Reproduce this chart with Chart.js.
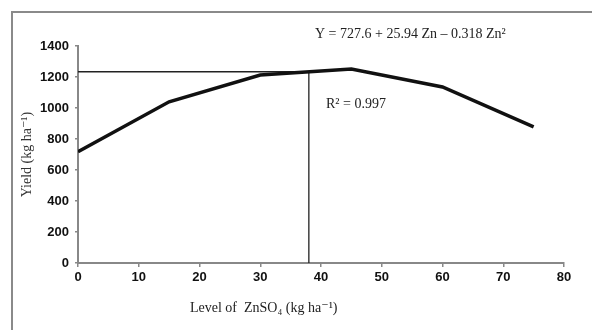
<!DOCTYPE html>
<html>
<head>
<meta charset="utf-8">
<script src="https://cdn.jsdelivr.net/npm/chart.js@4"></script>
<style>
  html, body { margin: 0; padding: 0; background: #fff; }
  #wrap { width: 592px; height: 330px; }
</style>
</head>
<body>
<div id="wrap"><canvas id="yieldChart" width="592" height="330"></canvas></div>
<script>
const znLevels = [0, 15, 30, 45, 60, 75];
const yields = [718, 1040, 1213, 1252, 1136, 878];
const optimumLevel = 38;
const optimumYield = 1234;
const xTicks = [0, 10, 20, 30, 40, 50, 60, 70, 80];
const yTicks = [0, 200, 400, 600, 800, 1000, 1200, 1400];

const curve = znLevels.map((x, i) => ({ x: x, y: yields[i] }));
const optimumLines = [
  { x: 0, y: optimumYield },
  { x: optimumLevel, y: optimumYield },
  { x: optimumLevel, y: 0 }
];

const serif = "'Liberation Serif', 'DejaVu Serif', serif";

const textPlugin = {
  id: 'texts',
  beforeDraw: function (chart) {
    const ctx = chart.ctx;
    ctx.save();
    ctx.strokeStyle = '#8a8a8a';
    ctx.lineWidth = 2;
    ctx.beginPath();
    ctx.moveTo(12, 332);
    ctx.lineTo(12, 12);
    ctx.lineTo(594, 12);
    ctx.stroke();
    ctx.restore();
  },
  afterDraw: function (chart) {
    const ctx = chart.ctx;
    ctx.save();
    ctx.fillStyle = '#222';
    ctx.font = '14px ' + serif;
    ctx.textBaseline = 'alphabetic';
    ctx.textAlign = 'left';
    ctx.fillText('Y = 727.6 + 25.94 Zn \u2013 0.318 Zn\u00b2', 315, 38);
    ctx.fillText('R\u00b2 = 0.997', 326, 108);
    ctx.fillText('Level of  ZnSO\u2084 (kg ha\u207b\u00b9)', 190, 312);
    ctx.restore();
  }
};

new Chart(document.getElementById('yieldChart').getContext('2d'), {
  type: 'scatter',
  data: {
    datasets: [{
      data: curve,
      showLine: true,
      borderColor: '#111',
      borderWidth: 3.5,
      pointRadius: 0,
      tension: 0,
      order: 1
    }, {
      data: optimumLines,
      showLine: true,
      borderColor: '#222',
      borderWidth: 1.3,
      pointRadius: 0,
      tension: 0,
      order: 2
    }]
  },
  options: {
    responsive: false,
    animation: false,
    events: [],
    layout: { padding: { left: 0, top: 46, right: 28, bottom: 0 } },
    plugins: {
      legend: { display: false },
      tooltip: { enabled: false }
    },
    scales: {
      x: {
        type: 'linear',
        min: 0,
        max: 80,
        afterBuildTicks: function (axis) { axis.ticks = xTicks.map(v => ({ value: v })); },
        afterFit: function (axis) { axis.height = 67; },
        grid: { drawOnChartArea: false, drawTicks: true, tickLength: 4, color: '#888', lineWidth: 1.5 },
        border: { color: '#888', width: 2 },
        ticks: {
          padding: 3,
          color: '#111',
          maxRotation: 0,
          callback: v => String(v),
          font: { family: "'Liberation Sans', Arial, sans-serif", size: 13, weight: 'bold' }
        }
      },
      y: {
        min: 0,
        max: 1400,
        afterBuildTicks: function (axis) { axis.ticks = yTicks.map(v => ({ value: v })); },
        afterFit: function (axis) { axis.width = 78; },
        grid: { drawOnChartArea: false, drawTicks: true, tickLength: 3, color: '#888', lineWidth: 1.5 },
        border: { color: '#888', width: 2 },
        ticks: {
          padding: 6,
          color: '#111',
          callback: v => String(v),
          font: { family: "'Liberation Sans', Arial, sans-serif", size: 13, weight: 'bold' }
        },
        title: {
          display: true,
          text: 'Yield (kg ha\u207b\u00b9)',
          color: '#333',
          padding: { top: 19, bottom: 0 },
          font: { family: serif, size: 14, weight: 'normal', lineHeight: 1.2 }
        }
      }
    }
  },
  plugins: [textPlugin]
});
</script>
</body>
</html>
